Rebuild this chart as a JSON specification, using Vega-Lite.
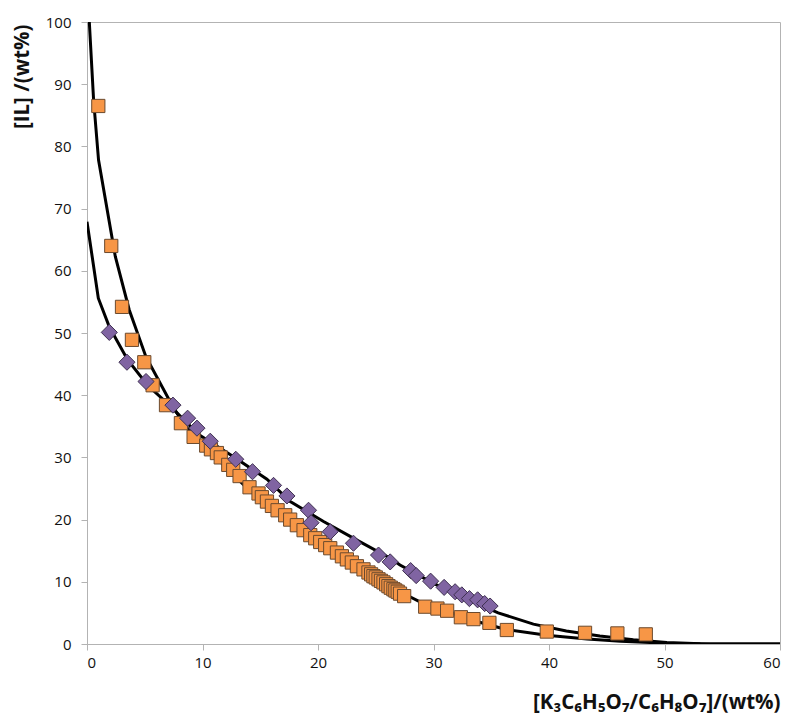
{
  "$schema": "https://vega.github.io/schema/vega-lite/v6.json",
  "autosize": {"type": "none"},
  "width": 693,
  "height": 622,
  "padding": {"left": 87, "top": 22, "right": 20, "bottom": 81},
  "background": "white",
  "config": {
    "view": {"stroke": "#b3b3b3", "strokeWidth": 1},
    "axis": {
      "grid": false,
      "domainColor": "#b3b3b3",
      "tickColor": "#b3b3b3",
      "tickSize": 6,
      "labelFont": "Open Sans",
      "labelFontSize": 15,
      "labelColor": "#111111",
      "titleFont": "Open Sans",
      "titleFontWeight": "bold",
      "titleFontSize": 20.5,
      "titleColor": "#111111"
    }
  },
  "datasets": {
    "curves": [
      {"fit": "A", "x": 0.2, "y": 100}, {"fit": "A", "x": 0.57, "y": 87.5}, {"fit": "A", "x": 1.0, "y": 77.8},
      {"fit": "A", "x": 2.45, "y": 62.3}, {"fit": "A", "x": 3.66, "y": 53.7}, {"fit": "A", "x": 5.1, "y": 46.2},
      {"fit": "A", "x": 7.27, "y": 38.7}, {"fit": "A", "x": 8.42, "y": 35.2}, {"fit": "A", "x": 9.82, "y": 32.6},
      {"fit": "A", "x": 11.97, "y": 28.5}, {"fit": "A", "x": 13.55, "y": 25.6}, {"fit": "A", "x": 15.58, "y": 22.3},
      {"fit": "A", "x": 17.88, "y": 19.1}, {"fit": "A", "x": 20.77, "y": 15.4}, {"fit": "A", "x": 23.65, "y": 12.2},
      {"fit": "A", "x": 24.5, "y": 11.4}, {"fit": "A", "x": 27.1, "y": 8.4}, {"fit": "A", "x": 29.0, "y": 6.6},
      {"fit": "A", "x": 31.7, "y": 4.9}, {"fit": "A", "x": 34.0, "y": 3.5}, {"fit": "A", "x": 36.35, "y": 2.3},
      {"fit": "A", "x": 39.8, "y": 1.4}, {"fit": "A", "x": 43.3, "y": 0.8}, {"fit": "A", "x": 46.2, "y": 0.45},
      {"fit": "A", "x": 50.2, "y": 0.12}, {"fit": "A", "x": 54, "y": 0.02}, {"fit": "A", "x": 60, "y": 0},
      {"fit": "B", "x": 0.0, "y": 67.9}, {"fit": "B", "x": 0.98, "y": 55.6}, {"fit": "B", "x": 1.93, "y": 51.0},
      {"fit": "B", "x": 3.51, "y": 45.7}, {"fit": "B", "x": 5.25, "y": 41.6}, {"fit": "B", "x": 7.12, "y": 38.4},
      {"fit": "B", "x": 9.0, "y": 34.9}, {"fit": "B", "x": 9.8, "y": 33.5}, {"fit": "B", "x": 12.69, "y": 30.1},
      {"fit": "B", "x": 15.58, "y": 26.5}, {"fit": "B", "x": 17.6, "y": 22.9}, {"fit": "B", "x": 20.48, "y": 19.7},
      {"fit": "B", "x": 23.37, "y": 16.7}, {"fit": "B", "x": 26.25, "y": 13.8}, {"fit": "B", "x": 27.1, "y": 12.7},
      {"fit": "B", "x": 30.0, "y": 9.75}, {"fit": "B", "x": 32.9, "y": 7.2}, {"fit": "B", "x": 35.6, "y": 5.0},
      {"fit": "B", "x": 38.65, "y": 3.2}, {"fit": "B", "x": 41.5, "y": 2.1}, {"fit": "B", "x": 44.4, "y": 1.3},
      {"fit": "B", "x": 47.3, "y": 0.7}, {"fit": "B", "x": 50.2, "y": 0.25}, {"fit": "B", "x": 53.1, "y": 0.05},
      {"fit": "B", "x": 56, "y": 0.0}, {"fit": "B", "x": 60, "y": 0}
    ],
    "points": [
      {"series": "orange", "x": 0.98, "y": 86.5}, {"series": "orange", "x": 2.1, "y": 64.0},
      {"series": "orange", "x": 3.03, "y": 54.2}, {"series": "orange", "x": 3.89, "y": 48.9},
      {"series": "orange", "x": 4.96, "y": 45.3}, {"series": "orange", "x": 5.68, "y": 41.6},
      {"series": "orange", "x": 6.84, "y": 38.4}, {"series": "orange", "x": 8.13, "y": 35.5},
      {"series": "orange", "x": 9.23, "y": 33.3}, {"series": "orange", "x": 10.32, "y": 31.9},
      {"series": "orange", "x": 10.73, "y": 31.3}, {"series": "orange", "x": 11.25, "y": 30.7},
      {"series": "orange", "x": 11.58, "y": 30.0}, {"series": "orange", "x": 12.23, "y": 28.8},
      {"series": "orange", "x": 12.66, "y": 28.0}, {"series": "orange", "x": 13.21, "y": 27.0},
      {"series": "orange", "x": 14.07, "y": 25.2}, {"series": "orange", "x": 14.85, "y": 24.2},
      {"series": "orange", "x": 15.14, "y": 23.6}, {"series": "orange", "x": 15.58, "y": 22.9},
      {"series": "orange", "x": 16.01, "y": 22.2}, {"series": "orange", "x": 16.5, "y": 21.5},
      {"series": "orange", "x": 17.16, "y": 20.7}, {"series": "orange", "x": 17.59, "y": 20.0},
      {"series": "orange", "x": 18.17, "y": 19.1}, {"series": "orange", "x": 18.75, "y": 18.3},
      {"series": "orange", "x": 19.33, "y": 17.5}, {"series": "orange", "x": 19.76, "y": 17.0},
      {"series": "orange", "x": 20.19, "y": 16.4}, {"series": "orange", "x": 20.62, "y": 15.9},
      {"series": "orange", "x": 21.06, "y": 15.4}, {"series": "orange", "x": 21.64, "y": 14.7},
      {"series": "orange", "x": 22.07, "y": 14.1}, {"series": "orange", "x": 22.5, "y": 13.6},
      {"series": "orange", "x": 22.93, "y": 13.1}, {"series": "orange", "x": 23.37, "y": 12.5},
      {"series": "orange", "x": 23.94, "y": 12.0}, {"series": "orange", "x": 24.37, "y": 11.5},
      {"series": "orange", "x": 24.6, "y": 11.2}, {"series": "orange", "x": 24.8, "y": 10.9},
      {"series": "orange", "x": 25.0, "y": 10.7}, {"series": "orange", "x": 25.24, "y": 10.4},
      {"series": "orange", "x": 25.45, "y": 10.15}, {"series": "orange", "x": 25.67, "y": 9.9},
      {"series": "orange", "x": 25.9, "y": 9.6}, {"series": "orange", "x": 26.1, "y": 9.3},
      {"series": "orange", "x": 26.3, "y": 9.05}, {"series": "orange", "x": 26.53, "y": 8.8},
      {"series": "orange", "x": 26.7, "y": 8.6}, {"series": "orange", "x": 26.9, "y": 8.4},
      {"series": "orange", "x": 27.1, "y": 8.1}, {"series": "orange", "x": 27.46, "y": 7.7},
      {"series": "orange", "x": 29.28, "y": 6.0}, {"series": "orange", "x": 30.34, "y": 5.7},
      {"series": "orange", "x": 31.18, "y": 5.35}, {"series": "orange", "x": 32.37, "y": 4.3},
      {"series": "orange", "x": 33.46, "y": 4.0}, {"series": "orange", "x": 34.84, "y": 3.4},
      {"series": "orange", "x": 36.35, "y": 2.25}, {"series": "orange", "x": 39.81, "y": 2.0},
      {"series": "orange", "x": 43.12, "y": 1.8}, {"series": "orange", "x": 45.92, "y": 1.7},
      {"series": "orange", "x": 48.38, "y": 1.55},
      {"series": "purple", "x": 1.93, "y": 50.1}, {"series": "purple", "x": 3.46, "y": 45.3},
      {"series": "purple", "x": 5.11, "y": 42.2}, {"series": "purple", "x": 7.44, "y": 38.4},
      {"series": "purple", "x": 8.71, "y": 36.3}, {"series": "purple", "x": 9.52, "y": 34.7},
      {"series": "purple", "x": 10.67, "y": 32.6}, {"series": "purple", "x": 12.88, "y": 29.7},
      {"series": "purple", "x": 14.33, "y": 27.7}, {"series": "purple", "x": 16.15, "y": 25.5},
      {"series": "purple", "x": 17.31, "y": 23.8}, {"series": "purple", "x": 19.18, "y": 21.5},
      {"series": "purple", "x": 19.4, "y": 19.5}, {"series": "purple", "x": 21.06, "y": 18.05},
      {"series": "purple", "x": 23.07, "y": 16.2}, {"series": "purple", "x": 25.24, "y": 14.3},
      {"series": "purple", "x": 26.25, "y": 13.2}, {"series": "purple", "x": 28.02, "y": 11.8},
      {"series": "purple", "x": 28.5, "y": 11.0}, {"series": "purple", "x": 29.75, "y": 10.1},
      {"series": "purple", "x": 30.92, "y": 9.1}, {"series": "purple", "x": 31.87, "y": 8.4},
      {"series": "purple", "x": 32.45, "y": 7.9}, {"series": "purple", "x": 33.11, "y": 7.3},
      {"series": "purple", "x": 33.82, "y": 7.1}, {"series": "purple", "x": 34.43, "y": 6.5},
      {"series": "purple", "x": 34.9, "y": 6.1}
    ]
  },
  "encoding": {
    "x": {
      "field": "x", "type": "quantitative",
      "scale": {"domain": [0, 60], "nice": false, "zero": false},
      "axis": {
        "values": [0, 10, 20, 30, 40, 50, 60],
        "title": "[K₃C₆H₅O₇/C₆H₈O₇]/(wt%)",
        "labelPadding": 5,
        "titleAnchor": "end",
        "titleAlign": "right",
        "titleX": 693,
        "titleY": 58,
        "titleBaseline": "middle"
      }
    },
    "y": {
      "field": "y", "type": "quantitative",
      "scale": {"domain": [0, 100], "nice": false, "zero": false},
      "axis": {
        "values": [0, 10, 20, 30, 40, 50, 60, 70, 80, 90, 100],
        "title": "[IL] /(wt%)",
        "labelPadding": 10,
        "titleAngle": -90,
        "titleAlign": "right",
        "titleBaseline": "middle",
        "titleX": -65,
        "titleY": 2
      }
    }
  },
  "layer": [
    {
      "data": {"name": "curves"},
      "mark": {"type": "line", "color": "black", "strokeWidth": 3, "clip": true},
      "encoding": {"detail": {"field": "fit", "type": "nominal"}}
    },
    {
      "data": {"name": "points"},
      "mark": {"type": "point", "filled": true, "opacity": 1, "strokeWidth": 1},
      "encoding": {
        "shape": {"field": "series", "type": "nominal", "scale": {"domain": ["orange", "purple"], "range": ["square", "diamond"]}, "legend": null},
        "fill": {"field": "series", "type": "nominal", "scale": {"domain": ["orange", "purple"], "range": ["#F79646", "#8064A2"]}, "legend": null},
        "stroke": {"field": "series", "type": "nominal", "scale": {"domain": ["orange", "purple"], "range": ["#6b4a2e", "#3f3151"]}, "legend": null},
        "size": {"field": "series", "type": "nominal", "scale": {"domain": ["orange", "purple"], "range": [175, 260]}, "legend": null}
      }
    }
  ]
}
